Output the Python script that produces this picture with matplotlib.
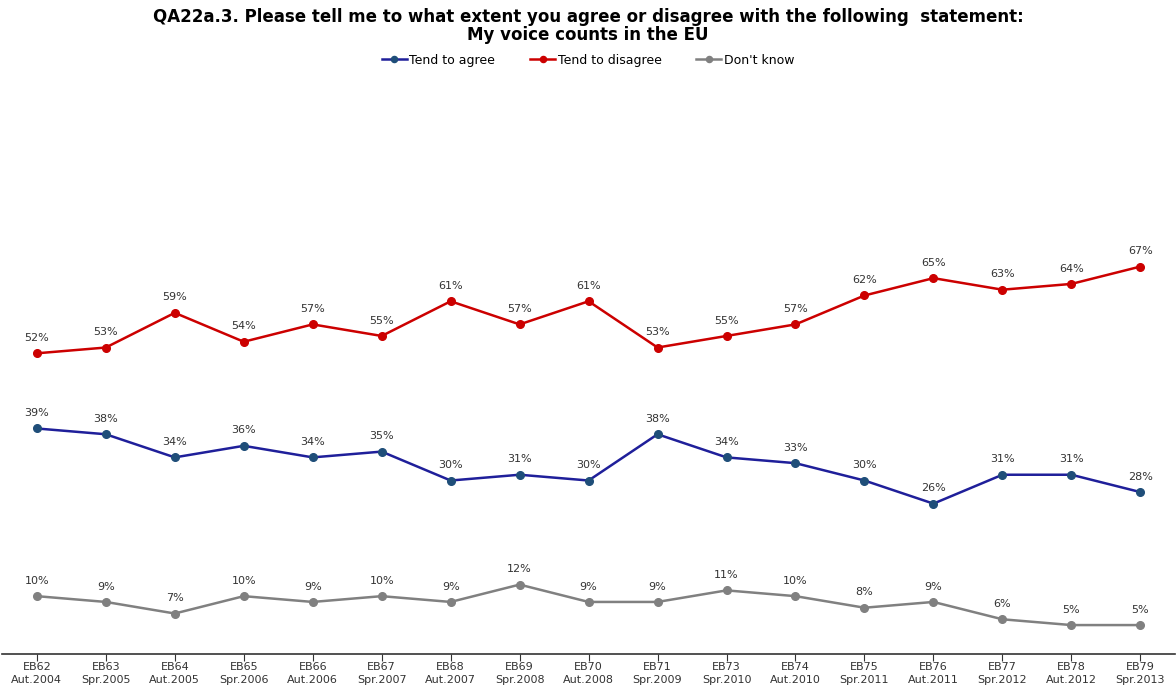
import matplotlib.pyplot as plt

waves = ["EB62\nAut.2004", "EB63\nSpr.2005", "EB64\nAut.2005", "EB65\nSpr.2006",
         "EB66\nAut.2006", "EB67\nSpr.2007", "EB68\nAut.2007", "EB69\nSpr.2008",
         "EB70\nAut.2008", "EB71\nSpr.2009", "EB73\nSpr.2010", "EB74\nAut.2010",
         "EB75\nSpr.2011", "EB76\nAut.2011", "EB77\nSpr.2012", "EB78\nAut.2012",
         "EB79\nSpr.2013"]
agree = [39, 38, 34, 36, 34, 35, 30, 31, 30, 38, 34, 33, 30, 26, 31, 31, 28]
disagree = [52, 53, 59, 54, 57, 55, 61, 57, 61, 53, 55, 57, 62, 65, 63, 64, 67]
dont_know = [10, 9, 7, 10, 9, 10, 9, 12, 9, 9, 11, 10, 8, 9, 6, 5, 5]

series = [
    ("Tend to agree", agree, "#1f1f9a", "#1f4e79"),
    ("Tend to disagree", disagree, "#cc0000", "#cc0000"),
    ("Don't know", dont_know, "#808080", "#808080"),
]

fig = plt.figure(figsize=(11.76, 6.90), dpi=100)
ax = fig.add_axes([0.002, 0.0522, 0.997, 0.838])
x = range(len(waves))

for name, vals, lc, mc in series:
    ax.plot(x, vals, color=lc, lw=1.8, marker="o", ms=5.5, mfc=mc, mec=mc, label=name)
    for i, v in enumerate(vals):
        ax.annotate(f"{v}%", (i, v), xytext=(0, 7.5), textcoords="offset points",
                    ha="center", va="bottom", fontsize=8, color="#333333")

ax.set_xlim(-0.5, len(waves) - 0.5)
ax.set_ylim(0, 100)
ax.set_xticks(list(x))
ax.set_xticklabels(waves, fontsize=8, color="#333333", linespacing=1.3)
ax.tick_params(axis="x", length=5, color="#333333", pad=1)
ax.set_yticks([])
for s in ["top", "left", "right"]:
    ax.spines[s].set_visible(False)
ax.spines["bottom"].set_color("#333333")
ax.spines["bottom"].set_linewidth(1.2)

fig.text(0.5, 0.988, "QA22a.3. Please tell me to what extent you agree or disagree with the following  statement:\nMy voice counts in the EU",
         ha="center", va="top", fontsize=12, fontweight="bold", linespacing=1.0)
fig.legend(loc="center", bbox_to_anchor=(0.5, 0.913), ncol=3, frameon=False,
           fontsize=9, handlelength=2, handletextpad=0.2, columnspacing=2.8,
           markerscale=0.8)

fig.savefig("out.png", dpi=100)
